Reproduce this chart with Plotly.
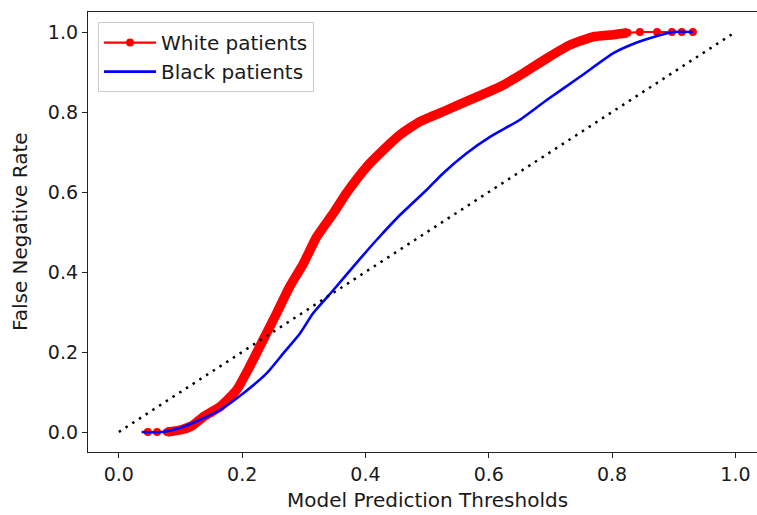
import plotly.graph_objects as go

# White patients (false negative rate vs threshold)
white_x = [0.047, 0.062, 0.078, 0.10, 0.118, 0.137, 0.164, 0.191, 0.212, 0.234, 0.256,
           0.277, 0.299, 0.321, 0.348, 0.369, 0.402, 0.429, 0.456, 0.488, 0.532, 0.575,
           0.618, 0.656, 0.694, 0.732, 0.769, 0.802, 0.825, 0.845, 0.873, 0.897, 0.913, 0.931]
white_y = [0.0, 0.0, 0.0, 0.005, 0.015, 0.038, 0.063, 0.105, 0.163, 0.23, 0.297,
           0.363, 0.42, 0.488, 0.547, 0.597, 0.663, 0.705, 0.743, 0.776, 0.805, 0.834,
           0.863, 0.897, 0.934, 0.968, 0.988, 0.993, 0.998, 1.0, 1.0, 1.0, 1.0, 1.0]

# Black patients
black_x = [0.037, 0.07, 0.099, 0.131, 0.164, 0.202, 0.24, 0.267, 0.294, 0.315, 0.348,
           0.38, 0.418, 0.456, 0.499, 0.526, 0.564, 0.602, 0.65, 0.694, 0.748, 0.802,
           0.834, 0.873, 0.899, 0.931]
black_y = [0.0, 0.0, 0.01, 0.03, 0.055, 0.097, 0.147, 0.197, 0.247, 0.297, 0.355,
           0.413, 0.48, 0.5425, 0.605, 0.647, 0.697, 0.738, 0.78, 0.83, 0.888, 0.947,
           0.97, 0.99, 1.0, 1.0]

# Reference diagonal
diag_x = [0.0, 1.0]
diag_y = [0.0, 1.0]

x_ticks = [0.0, 0.2, 0.4, 0.6, 0.8, 1.0]
y_ticks = [0.0, 0.2, 0.4, 0.6, 0.8, 1.0]
tick_text = ["0.0", "0.2", "0.4", "0.6", "0.8", "1.0"]

FONT = "DejaVu Sans"
TXT = "#1a1a1a"

fig = go.Figure()

# dense band of overlapping markers for white patients
fig.add_trace(go.Scatter(x=white_x[2:-5], y=white_y[2:-5], mode="lines",
                         line=dict(color="#ff0000", width=9.5, shape="spline", smoothing=0.5),
                         showlegend=False, hoverinfo="skip"))
fig.add_trace(go.Scatter(x=white_x, y=white_y, mode="lines+markers",
                         name="White patients",
                         line=dict(color="#ff0000", width=2.2),
                         marker=dict(color="#ff0000", size=8)))
fig.add_trace(go.Scatter(x=black_x, y=black_y, mode="lines",
                         name="Black patients",
                         line=dict(color="#0000ff", width=2.6, shape="spline", smoothing=0.5)))
fig.add_trace(go.Scatter(x=diag_x, y=diag_y, mode="lines", showlegend=False,
                         line=dict(color="black", width=2.5, dash="2.5px,5.5px")))

axis_common = dict(
    showgrid=False, zeroline=False, showline=True, linecolor="#222", linewidth=1.3,
    ticks="outside", ticklen=5, tickwidth=1.2, tickcolor="#222",
    tickfont=dict(family=FONT, size=19, color=TXT),
)

fig.update_xaxes(range=[-0.05, 1.035], tickvals=x_ticks, ticktext=tick_text,
                 mirror=True, **axis_common)
fig.update_yaxes(range=[-0.05, 1.05], tickvals=y_ticks, ticktext=tick_text,
                 mirror=False, **axis_common)

fig.add_annotation(text="Model Prediction Thresholds", xref="x", yref="paper",
                   x=0.5, y=0, yshift=-48, yanchor="middle", xanchor="center",
                   showarrow=False, font=dict(family=FONT, size=20, color=TXT))
fig.add_annotation(text="False Negative Rate", xref="paper", yref="paper",
                   x=(20 - 88) / 669, y=0.5, textangle=-90, xanchor="center",
                   yanchor="middle", showarrow=False,
                   font=dict(family=FONT, size=20, color=TXT))

fig.update_layout(
    width=757, height=515,
    margin=dict(l=88, r=0, t=12, b=63),
    paper_bgcolor="white", plot_bgcolor="white",
    font=dict(family=FONT, size=19, color=TXT),
    legend=dict(x=0.015, y=0.977, xanchor="left", yanchor="top",
                bgcolor="white", bordercolor="#cccccc", borderwidth=1,
                font=dict(family=FONT, size=20, color=TXT),
                tracegroupgap=0, itemwidth=52),
)

fig.write_html("out.html", config={"displayModeBar": False},
               post_script="document.body.style.margin='0';document.body.style.overflow='hidden';")
